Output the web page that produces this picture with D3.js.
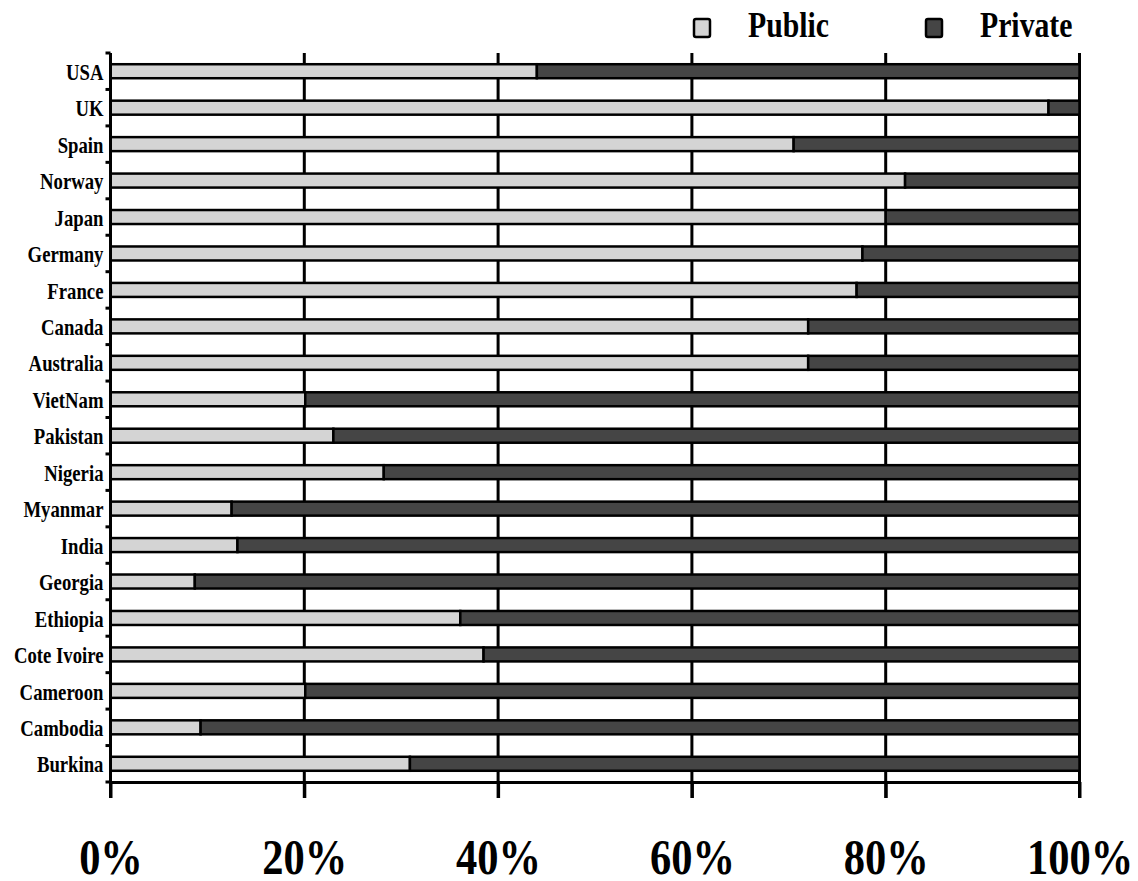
<!DOCTYPE html>
<html>
<head>
<meta charset="utf-8">
<script src="https://cdn.jsdelivr.net/npm/d3@7"></script>
<style>
  body { margin: 0; background: #fff; }
  svg text { font-family: "Liberation Serif", "Times New Roman", serif; font-weight: bold; fill: #000; }
</style>
</head>
<body>
<div id="chart"></div>
<script>
// Countries, top to bottom
const countries = [
    "USA", "UK", "Spain", "Norway", "Japan", "Germany", "France", "Canada",
    "Australia", "VietNam", "Pakistan", "Nigeria", "Myanmar", "India",
    "Georgia", "Ethiopia", "Cote Ivoire", "Cameroon", "Cambodia", "Burkina"
];

// Share of spending (%)
const publicShare = [
    44.0, 96.8, 70.5, 82.0, 80.0, 77.6, 77.0, 72.0,
    72.0, 20.1, 23.0, 28.2, 12.5, 13.1,
    8.7, 36.1, 38.5, 20.1, 9.3, 30.9
];
const privateShare = [
    56.0, 3.2, 29.5, 18.0, 20.0, 22.4, 23.0, 28.0,
    28.0, 79.9, 77.0, 71.8, 87.5, 86.9,
    91.3, 63.9, 61.5, 79.9, 90.7, 69.1
];

const seriesNames = ["Public", "Private"];
const xTicks = [0, 20, 40, 60, 80, 100];

const colors = { Public: "#d4d4d4", Private: "#454545" };
// the original lettering is horizontally condensed
const squeeze = "scale(0.85,1)";
const squeezeLabels = "scale(0.78,1)";

const W = 1138, H = 881;
const plot = { left: 110.5, right: 1079.5, top: 53, bottom: 782 };

const table = countries.map((c, i) => ({ country: c, Public: publicShare[i], Private: privateShare[i] }));
const stacked = d3.stack().keys(seriesNames)(table);

const x = d3.scaleLinear().domain([0, 100]).range([plot.left, plot.right]);
const y = d3.scaleBand().domain(countries).range([plot.top, plot.bottom]).padding(0);

const svg = d3.select("#chart").append("svg")
    .attr("width", W)
    .attr("height", H);

// vertical grid lines (behind the bars)
svg.append("g")
    .selectAll("line")
    .data(xTicks.slice(1))
    .enter()
    .append("line")
    .attr("x1", d => x(d))
    .attr("x2", d => x(d))
    .attr("y1", plot.top)
    .attr("y2", plot.bottom + 16)
    .attr("stroke", "#000")
    .attr("stroke-width", 3);

// bottom axis
const xAxis = svg.append("g")
    .attr("transform", `translate(0,${plot.bottom})`)
    .call(d3.axisBottom(x).tickValues(xTicks).tickFormat(d => d + "%").tickSize(16).tickSizeOuter(0).tickPadding(76));
xAxis.select(".domain").attr("stroke-width", 3);
xAxis.selectAll(".tick line").attr("stroke-width", 3);
xAxis.selectAll(".tick text")
    .attr("font-size", "50px")
    .attr("dy", 0)
    .attr("transform", squeeze);
xAxis.attr("font-family", null).attr("font-size", null);

// bars
const barH = 14;
svg.append("g")
    .selectAll("g")
    .data(stacked)
    .enter()
    .append("g")
    .attr("fill", d => colors[d.key])
    .selectAll("rect")
    .data(d => d)
    .enter()
    .append("rect")
    .attr("x", d => x(d[0]))
    .attr("y", d => y(d.data.country) + y.bandwidth() / 2 - barH / 2)
    .attr("width", d => x(d[1]) - x(d[0]))
    .attr("height", barH)
    .attr("stroke", "#000")
    .attr("stroke-width", 2.5);

// left axis: labels at band centres, ticks at band boundaries
const yAxis = svg.append("g")
    .attr("transform", `translate(${plot.left},0)`)
    .call(d3.axisLeft(y).tickSize(0).tickPadding(9));
yAxis.select(".domain").remove();
yAxis.selectAll(".tick text")
    .attr("font-size", "24px")
    .attr("dy", "0.36em")
    .attr("transform", squeezeLabels);
yAxis.attr("font-family", null).attr("font-size", null);

svg.append("g")
    .selectAll("line")
    .data(countries.map(c => y(c)).concat([plot.bottom]))
    .enter()
    .append("line")
    .attr("x1", plot.left - 5)
    .attr("x2", plot.left)
    .attr("y1", d => d)
    .attr("y2", d => d)
    .attr("stroke", "#000")
    .attr("stroke-width", 3);

svg.append("line")
    .attr("x1", plot.left)
    .attr("x2", plot.left)
    .attr("y1", plot.top)
    .attr("y2", plot.bottom + 16)
    .attr("stroke", "#000")
    .attr("stroke-width", 3);

// legend
const legendX = { Public: 693, Private: 925 };
const legend = svg.append("g")
    .selectAll("g")
    .data(seriesNames)
    .enter()
    .append("g")
    .attr("transform", d => `translate(${legendX[d]},18)`);

legend.append("rect")
    .attr("x", 1)
    .attr("y", 1)
    .attr("width", 16)
    .attr("height", 18)
    .attr("rx", 2)
    .attr("fill", d => colors[d])
    .attr("stroke", "#000")
    .attr("stroke-width", 2.5);

legend.append("text")
    .attr("transform", `translate(55,19) ${squeeze}`)
    .attr("font-size", "35px")
    .text(d => d);
</script>
</body>
</html>
